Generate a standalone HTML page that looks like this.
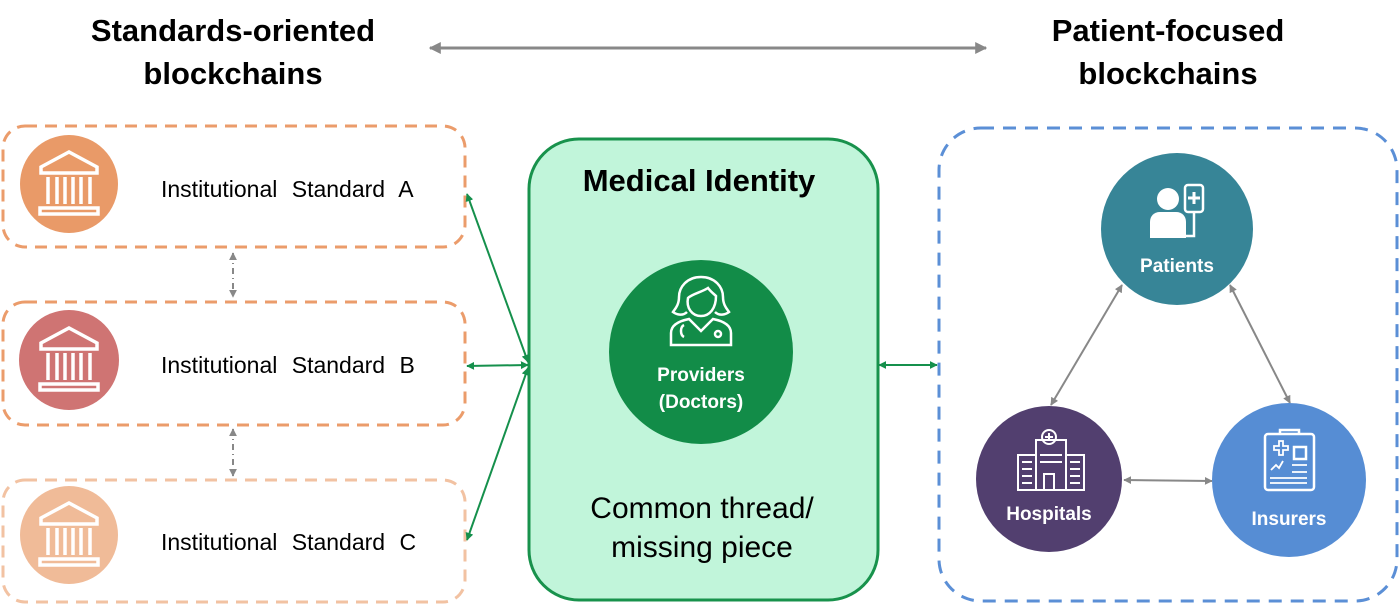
<!DOCTYPE html>
<html><head><meta charset="utf-8"><style>
html,body{margin:0;padding:0;background:#fff;}
svg{display:block}
</style></head><body>
<svg width="1400" height="604" viewBox="0 0 1400 604" xmlns="http://www.w3.org/2000/svg" font-family="Liberation Sans, Arial, sans-serif">
<defs>
<marker id="ag" viewBox="0 0 10 10" refX="9" refY="5" markerWidth="4" markerHeight="4" orient="auto-start-reverse"><path d="M0,0L10,5L0,10z" fill="#15904c"/></marker>
<marker id="ay" viewBox="0 0 10 10" refX="9" refY="5" markerWidth="4" markerHeight="4" orient="auto-start-reverse"><path d="M0,0L10,5L0,10z" fill="#888"/></marker>
<g id="bank" fill="none" stroke="#fff" stroke-width="3.5">
<path d="M-28,-20 L0,-35 L28,-20 L28,-14 L-28,-14 Z"/>
<path d="M-21,-10v27M-12,-10v27M-4,-10v27M4,-10v27M12,-10v27M21,-10v27"/>
<rect x="-29" y="21" width="58" height="6"/>
</g>
</defs>
<text x="233" y="41" font-size="31" font-weight="bold" text-anchor="middle">Standards-oriented</text>
<text x="233" y="84" font-size="31" font-weight="bold" text-anchor="middle">blockchains</text>
<text x="1168" y="41" font-size="31" font-weight="bold" text-anchor="middle">Patient-focused</text>
<text x="1168" y="84" font-size="31" font-weight="bold" text-anchor="middle">blockchains</text>
<line x1="430" y1="48" x2="986" y2="48" stroke="#888" stroke-width="3" marker-start="url(#ay)" marker-end="url(#ay)"/>

<rect x="3" y="126" width="462" height="121" rx="22" fill="none" stroke="#eb9c6b" stroke-width="3" stroke-dasharray="12,8"/>
<rect x="3" y="302" width="462" height="123" rx="22" fill="none" stroke="#eb9c6b" stroke-width="3" stroke-dasharray="12,8"/>
<rect x="3" y="480" width="462" height="122" rx="22" fill="none" stroke="#f2c2a2" stroke-width="3" stroke-dasharray="12,8"/>
<circle cx="69" cy="184" r="49" fill="#e99a68"/>
<circle cx="69" cy="360" r="50" fill="#cf7473"/>
<circle cx="69" cy="535" r="49" fill="#f0bb98"/>
<use href="#bank" x="69" y="187"/>
<use href="#bank" x="69" y="363"/>
<use href="#bank" x="69" y="538"/>
<text x="161" y="197" font-size="23" word-spacing="8">Institutional Standard A</text>
<text x="161" y="373" font-size="23" word-spacing="8">Institutional Standard B</text>
<text x="161" y="550" font-size="23" word-spacing="8">Institutional Standard C</text>
<line x1="233" y1="253" x2="233" y2="297" stroke="#888" stroke-width="2" stroke-dasharray="6,4,1,4" marker-start="url(#ay)" marker-end="url(#ay)"/>
<line x1="233" y1="429" x2="233" y2="476" stroke="#888" stroke-width="2" stroke-dasharray="6,4,1,4" marker-start="url(#ay)" marker-end="url(#ay)"/>

<rect x="529" y="139" width="349" height="461" rx="50" fill="#c1f5da" stroke="#18924c" stroke-width="3"/>
<text x="699" y="191" font-size="31" font-weight="bold" text-anchor="middle">Medical Identity</text>
<circle cx="701" cy="352" r="92" fill="#128c48"/>
<g fill="none" stroke="#fff" stroke-width="2.5">
<path d="M701,277 c-14,0 -22,10 -22,20 c0,8 -4,12 -6,15 c4,3 10,4 14,0"/>
<path d="M701,277 c14,0 22,10 22,20 c0,8 4,12 6,15 c-4,3 -10,4 -14,0"/>
<path d="M688,298 c4,-4 14,-6 20,-10 c3,4 6,6 8,8 c0,12 -6,20 -15,20 c-9,0 -15,-8 -13,-18z"/>
<path d="M671,345 v-12 c0,-8 8,-12 18,-14 l12,12 l12,-12 c10,2 18,6 18,14 v12 z"/>
<circle cx="718" cy="334" r="3"/>
<path d="M684,325 c-4,2 -4,10 0,12"/>
</g>
<text x="701" y="381" font-size="19" font-weight="bold" fill="#fff" text-anchor="middle">Providers</text>
<text x="701" y="408" font-size="19" font-weight="bold" fill="#fff" text-anchor="middle">(Doctors)</text>
<text x="702" y="518" font-size="30" text-anchor="middle">Common thread/</text>
<text x="702" y="557" font-size="30" text-anchor="middle">missing piece</text>

<line x1="528" y1="362" x2="467" y2="194" stroke="#15904c" stroke-width="2" marker-start="url(#ag)" marker-end="url(#ag)"/>
<line x1="528" y1="365" x2="467" y2="366" stroke="#15904c" stroke-width="2" marker-start="url(#ag)" marker-end="url(#ag)"/>
<line x1="528" y1="368" x2="467" y2="540" stroke="#15904c" stroke-width="2" marker-start="url(#ag)" marker-end="url(#ag)"/>
<line x1="879" y1="365" x2="937" y2="365" stroke="#15904c" stroke-width="2" marker-start="url(#ag)" marker-end="url(#ag)"/>

<rect x="939" y="128" width="458" height="473" rx="42" fill="none" stroke="#5b8fd6" stroke-width="3" stroke-dasharray="13,9"/>
<line x1="1122" y1="285" x2="1051" y2="405" stroke="#888" stroke-width="2" marker-start="url(#ay)" marker-end="url(#ay)"/>
<line x1="1230" y1="285" x2="1290" y2="403" stroke="#888" stroke-width="2" marker-start="url(#ay)" marker-end="url(#ay)"/>
<line x1="1124" y1="480" x2="1212" y2="481" stroke="#888" stroke-width="2" marker-start="url(#ay)" marker-end="url(#ay)"/>
<circle cx="1177" cy="229" r="76" fill="#378597"/>
<circle cx="1049" cy="479" r="73" fill="#523f6f"/>
<circle cx="1289" cy="480" r="77" fill="#568dd4"/>
<g fill="#fff"><circle cx="1168" cy="199" r="11"/><path d="M1150,238 v-16 c0,-6 4,-10 10,-10 h16 c6,0 10,4 10,10 v16z"/></g>
<g fill="none" stroke="#fff" stroke-width="2.5"><rect x="1185" y="185" width="18" height="27" rx="3"/><path d="M1194,212 v24 h-8"/></g>
<path d="M1194,192v12M1188,198h12" stroke="#fff" stroke-width="3"/>
<text x="1177" y="272" font-size="19" font-weight="bold" fill="#fff" text-anchor="middle">Patients</text>
<g fill="none" stroke="#fff" stroke-width="2">
<rect x="1036" y="440" width="30" height="50"/><rect x="1018" y="455" width="18" height="35"/><rect x="1066" y="455" width="18" height="35"/>
<circle cx="1049" cy="437" r="7"/><path d="M1049,433v8M1045,437h8"/><rect x="1044" y="474" width="10" height="16"/>
<path d="M1022,462h10M1022,469h10M1022,476h10M1022,483h10M1070,462h10M1070,469h10M1070,476h10M1070,483h10M1040,455h22M1040,462h22"/>
</g>
<text x="1049" y="520" font-size="19" font-weight="bold" fill="#fff" text-anchor="middle">Hospitals</text>
<g fill="none" stroke="#fff" stroke-width="2.5">
<rect x="1265" y="434" width="49" height="56" rx="3"/><path d="M1280,434v-4h19v4"/><rect x="1294" y="447" width="12" height="12"/>
<path d="M1274,446h5v-5h4v5h5v4h-5v5h-4v-5h-5z" stroke-width="1.8"/>
<path d="M1271,470l5,-5l3,3l4,-7M1292,465h15M1292,472h15M1270,478h37M1270,483h37" stroke-width="1.8"/>
</g>
<text x="1289" y="525" font-size="19" font-weight="bold" fill="#fff" text-anchor="middle">Insurers</text>
</svg>
</body></html>
